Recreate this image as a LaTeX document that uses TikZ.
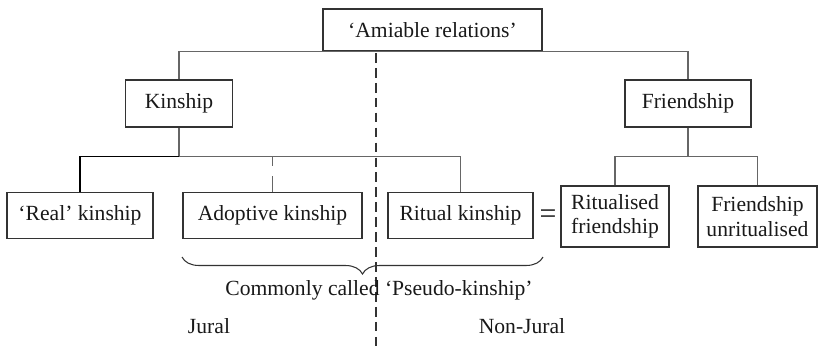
\documentclass[tikz,border=0pt]{standalone}
\usepackage{fontspec}
\setmainfont{Liberation Serif}
\usetikzlibrary{decorations.pathreplacing}

\begin{document}
\begin{tikzpicture}[
      x=0.02cm,y=-0.02cm,
      font=\fontsize{12.3}{13.8}\selectfont,
      box/.style={draw=black!80,line width=0.6pt,align=center,inner sep=1mm,
                  minimum height=0.92cm,text=black!90},
      tall/.style={box,minimum height=1.22cm},
      link/.style={draw=black!60,line width=0.6pt},
      divide/.style={draw=black!80,line width=0.6pt,dash pattern=on 5.5pt off 3pt},
      lbl/.style={text=black!90,inner sep=0pt}]
    \useasboundingbox (0,0) rectangle (818,346);
    \node[box,minimum width=4.38cm,minimum height=0.84cm] (amiable) at (432.5,30) {`Amiable relations'};
    \node[box,minimum width=2.14cm,minimum height=0.94cm] (kin) at (179,103.5) {Kinship};
    \node[box,minimum width=2.52cm,minimum height=0.94cm] (friend) at (688,103.5) {Friendship};
    \node[box,minimum width=2.92cm] (real) at (80,215.5) {`Real' kinship};
    \node[box,minimum width=3.58cm] (adopt) at (272.5,215.5) {Adoptive kinship};
    \node[box,minimum width=2.90cm] (ritual) at (460.5,215.5) {Ritual kinship};
    \node[tall,minimum width=2.16cm] (ritfr) at (615,216.5) {Ritualised\\friendship};
    \node[tall,minimum width=2.38cm] (unrit) at (757.5,216.5) {Friendship\\unritualised};
    \node[lbl,font=\fontsize{17}{17}\selectfont] (equals) at (548,217) {=};
    % top level
    \draw[link] (kin.north) |- (amiable.south) -| (friend.north);
    % kinship branch
    \draw[link] (kin.south) -- ++(0,29) coordinate (kj);
    \draw[black,line width=1.1pt] (real.north) |- (kj);
    \draw[link] (kj) -| (ritual.north);
    \draw[link,dash pattern=on 9pt off 6pt] (adopt.north) -- (adopt.north |- kj);
    % friendship branch
    \draw[link] (friend.south) -- ++(0,29) coordinate (fj);
    \draw[link] (ritfr.north) |- (fj) -| (unrit.north);
    % jural divide
    \coordinate (divtop) at (376,53);
    \coordinate (divbot) at (376,346);
    \draw[divide] (divtop) -- (divbot);
    % pseudo-kinship brace
    \coordinate (bl) at (182,257);
    \coordinate (br) at (543,257);
    \draw[black!80,line width=0.6pt,decorate,decoration={brace,mirror,amplitude=0.34cm}] (bl) -- (br);
    \node[lbl] (pseudo) at (379,290) {Commonly called `Pseudo-kinship'};
    \node[lbl] (jural) at (209,326) {Jural};
    \node[lbl] (nonjural) at (522,326) {Non-Jural};
  \end{tikzpicture}
\end{document}
